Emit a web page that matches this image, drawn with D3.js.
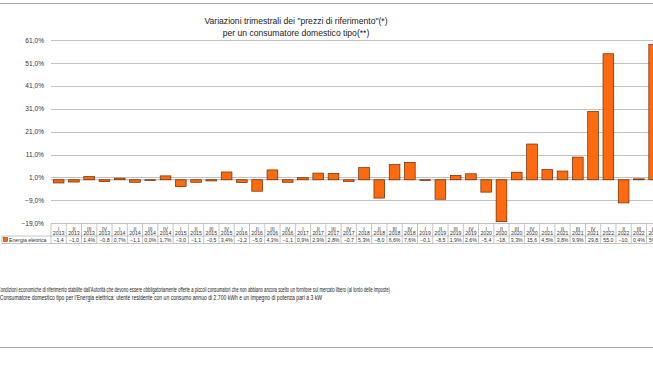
<!DOCTYPE html>
<html><head><meta charset="utf-8">
<script src="https://cdn.jsdelivr.net/npm/d3@7"></script>
<style>html,body{margin:0;padding:0;background:#fff;overflow:hidden}svg{display:block}</style>
</head><body>
<script>
const quarters = ["I","II","III","IV"];
const years = ["2013","2014","2015","2016","2017","2018","2019","2020","2021","2022"];
const categories = years.flatMap(y => quarters.map(q => ({q, y})));
const seriesName = "Energia elettrica";
const values = [
  -1.4, -1.0, 1.4, -0.8,
  0.7, -1.1, 0.0, 1.7,
  -3.0, -1.1, -0.5, 3.4,
  -1.2, -5.0, 4.3, -1.1,
  0.9, 2.9, 2.8, -0.7,
  5.3, -8.0, 6.6, 7.6,
  -0.1, -8.5, 1.9, 2.6,
  -5.4, -18.3, 3.3, 15.6,
  4.5, 3.8, 9.9, 29.8,
  55.0, -10.1, 0.4, 59.0
];
const yTicks = [-19, -9, 1, 11, 21, 31, 41, 51, 61];
const titleLines = ['Variazioni trimestrali dei "prezzi di riferimento"(*)', 'per un consumatore domestico tipo(**)'];
const notes = [
  "(*) Condizioni economiche di riferimento stabilite dall'Autorità che devono essere obbligatoriamente offerte a piccoli consumatori che non abbiano ancora scelto un fornitore sul mercato libero (al lordo delle imposte)",
  "(**) Consumatore domestico tipo per l'Energia elettrica: utente residente con un consumo annuo di 2.700 kWh e un impegno di potenza pari a 3 kW"
];

const W = 653, H = 367;
const font = "'Liberation Sans', Arial, sans-serif";
const svg = d3.select("body").append("svg").attr("width", W).attr("height", H)
  .style("font-family", font);

const x0 = 51, band = 15.27;
const x = d3.scaleBand().domain(d3.range(categories.length)).range([x0, x0 + band * categories.length]).paddingInner(0.3).paddingOuter(0.15);
const y = d3.scaleLinear().domain([-19, 61]).range([223.3, 40]);
const pct = v => d3.format(".1f")(v).replace(".", ",") + "%";

// frame lines
svg.append("line").attr("x1", 0).attr("x2", W).attr("y1", 3.5).attr("y2", 3.5).attr("stroke", "#a6a6a6").attr("stroke-width", 1);
svg.append("line").attr("x1", 0).attr("x2", W).attr("y1", 347.5).attr("y2", 347.5).attr("stroke", "#a6a6a6").attr("stroke-width", 1);

// title
svg.append("g").selectAll("text").data(titleLines).join("text")
  .attr("x", 296).attr("y", (d, i) => 24 + i * 12)
  .attr("text-anchor", "middle").attr("font-size", 8.6).attr("fill", "#222")
  .text(d => d);

// gridlines + y axis
const yAxis = d3.axisLeft(y).tickValues(yTicks).tickSize(0).tickPadding(7).tickFormat(pct);
const gy = svg.append("g").attr("transform", `translate(${x0},0)`).call(yAxis);
gy.select(".domain").remove();
gy.selectAll("text").attr("font-size", 6.6).attr("fill", "#333").attr("font-family", font);
svg.append("g").selectAll("line").data(yTicks).join("line")
  .attr("x1", x0).attr("x2", x0 + band * categories.length)
  .attr("y1", d => Math.round(y(d)) + 0.5).attr("y2", d => Math.round(y(d)) + 0.5)
  .attr("stroke", "#b3b3b3").attr("stroke-width", 0.8);
// zero axis line
svg.append("line").attr("x1", x0).attr("x2", x0 + band * categories.length)
  .attr("y1", y(0)).attr("y2", y(0)).attr("stroke", "#9a9a9a").attr("stroke-width", 0.8);

// bars
svg.append("g").selectAll("rect").data(values).join("rect")
  .attr("x", (d, i) => x(i))
  .attr("width", x.bandwidth())
  .attr("y", d => y(Math.max(0, d)))
  .attr("height", d => Math.max(0.6, Math.abs(y(d) - y(0))))
  .attr("fill", "#FF6A0E").attr("stroke", "#6b2a00").attr("stroke-width", 0.7);

// data table
const tTop = 223.5, tMid1 = 236, tBot = 243.5;
const tg = svg.append("g");
const colX = i => x0 + i * band;
tg.selectAll("line.v").data(d3.range(categories.length + 1)).join("line").attr("class", "v")
  .attr("x1", i => colX(i)).attr("x2", i => colX(i)).attr("y1", tTop).attr("y2", tBot)
  .attr("stroke", "#a0a0a0").attr("stroke-width", 0.6);
[tMid1, tBot].forEach(yy => tg.append("line").attr("x1", 2).attr("x2", x0 + band * categories.length)
  .attr("y1", yy).attr("y2", yy).attr("stroke", "#a0a0a0").attr("stroke-width", 0.6));
tg.append("line").attr("x1", 2).attr("x2", 2).attr("y1", tMid1).attr("y2", tBot).attr("stroke", "#a0a0a0").attr("stroke-width", 0.6);
tg.selectAll("text.q").data(categories).join("text").attr("class", "q")
  .attr("x", (d, i) => colX(i) + band / 2).attr("y", 230.5).attr("text-anchor", "middle")
  .attr("font-size", 5.2).attr("fill", "#333").text(d => d.q);
tg.selectAll("text.yr").data(categories).join("text").attr("class", "yr")
  .attr("x", (d, i) => colX(i) + band / 2).attr("y", 235.3).attr("text-anchor", "middle")
  .attr("font-size", 5.2).attr("fill", "#333").text(d => d.y);
tg.selectAll("text.val").data(values).join("text").attr("class", "val")
  .attr("x", (d, i) => colX(i) + band / 2).attr("y", 241.8).attr("text-anchor", "middle")
  .attr("font-size", 5.2).attr("fill", "#333").text(d => pct(d).slice(0, 4));
tg.append("rect").attr("x", 3.5).attr("y", 237.5).attr("width", 4).attr("height", 4)
  .attr("fill", "#FF6A0E").attr("stroke", "#6b2a00").attr("stroke-width", 0.5);
tg.append("text").attr("x", 9).attr("y", 241.8).attr("font-size", 5.2).attr("fill", "#333").text(seriesName);

// footnotes
svg.append("g").selectAll("text").data(notes).join("text")
  .attr("x", (d, i) => i === 0 ? -8 : -9).attr("y", (d, i) => 291.5 + i * 8.7)
  .attr("font-size", 6.3).attr("fill", "#222")
  .attr("textLength", (d, i) => i === 0 ? 398 : 331).attr("lengthAdjust", "spacingAndGlyphs")
  .text(d => d);
</script>
</body></html>
